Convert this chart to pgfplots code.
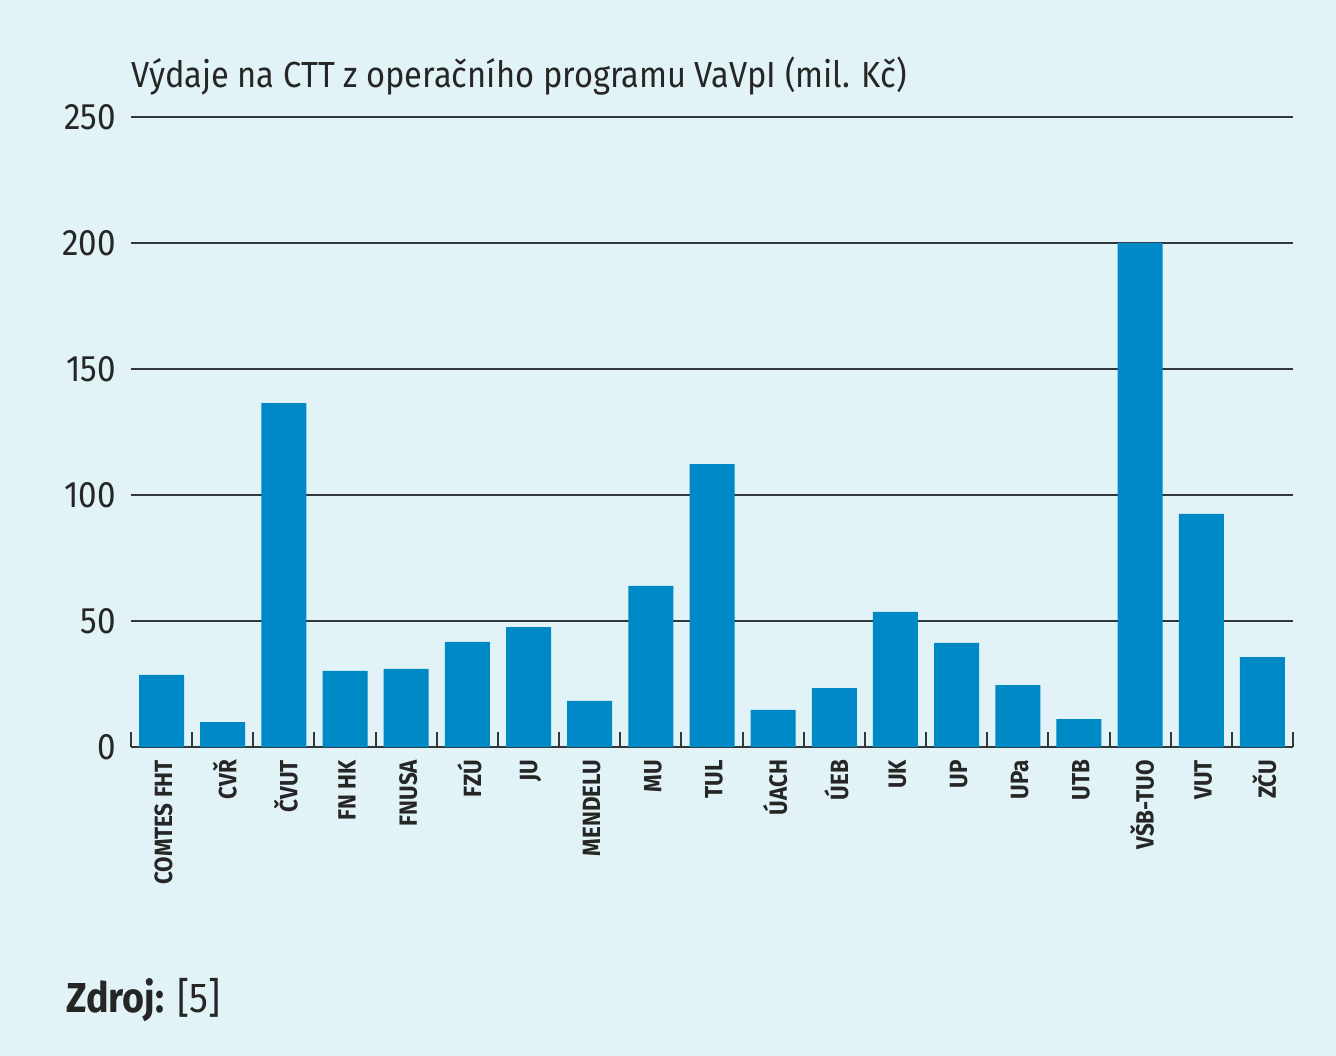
\documentclass[border=0pt]{standalone}
\usepackage{fontspec}
\setmainfont{Fira Sans}
\newfontfamily\narrowfont{Fira Sans}[FakeStretch=0.9]
\usepackage{pgfplots}
\pgfplotsset{compat=1.18}
\definecolor{bg}{RGB}{226,243,247}
\definecolor{barblue}{RGB}{0,137,199}
\definecolor{gridc}{RGB}{50,55,58}
\begin{document}
\begin{tikzpicture}
\fill[bg] (-65.5bp,-154.5bp) rectangle (602.5bp,373.5bp);
\begin{axis}[
  at={(0,0)}, anchor=south west,
  scale only axis,
  width=581bp, height=315bp,
  ymin=0, ymax=250,
  xmin=-0.5, xmax=18.5,
  ytick={0,50,...,250},
  xtick={0,...,18},
  xticklabels={COMTES FHT,CVŘ,ČVUT,FN HK,FNUSA,FZÚ,JU,MENDELU,MU,TUL,ÚACH,ÚEB,UK,UP,UPa,UTB,VŠB-TUO,VUT,ZČU},
  minor xtick={-0.5,0.5,...,18.5},
  axis x line*=bottom,
  axis y line*=left,
  xtick align=inside,
  y axis line style={draw=none},
  x axis line style={gridc, line width=1bp, -},
  major tick length=0pt,
  minor tick length=-7.5bp,
  minor tick style={gridc, line width=1bp},
  ymajorgrids,
  grid style={gridc, line width=0.8bp},
  /pgf/number format/assume math mode=true,
  yticklabel style={font=\narrowfont\fontsize{18.5}{20}\selectfont, xshift=-4bp, text=black!85},
  xticklabel style={rotate=90, anchor=east, font=\narrowfont\bfseries\fontsize{12.5}{14}\selectfont, yshift=-1bp, xshift=-3bp, text=black!85},
  ybar, bar width=22.5bp,
]
\addplot[fill=barblue, draw=none] coordinates {
  (0,28.6) (1,9.9) (2,136.5) (3,30.2) (4,31.0) (5,41.7) (6,47.6)
  (7,18.3) (8,63.9) (9,112.3) (10,14.7) (11,23.4) (12,53.6) (13,41.3)
  (14,24.6) (15,11.1) (16,200.0) (17,92.5) (18,35.7)
};
\end{axis}
\node[anchor=base west, inner sep=0pt, font=\narrowfont\fontsize{18.2}{20}\selectfont, text=black!85] at (0,329.5bp) {Výdaje na CTT z operačního programu VaVpI (mil. Kč)};
\node[anchor=base west, inner sep=0pt, font=\narrowfont\fontsize{21}{23}\selectfont, text=black!85] at (-32.5bp,-132.5bp) {\textbf{Zdroj:} [5]};
\end{tikzpicture}
\end{document}
